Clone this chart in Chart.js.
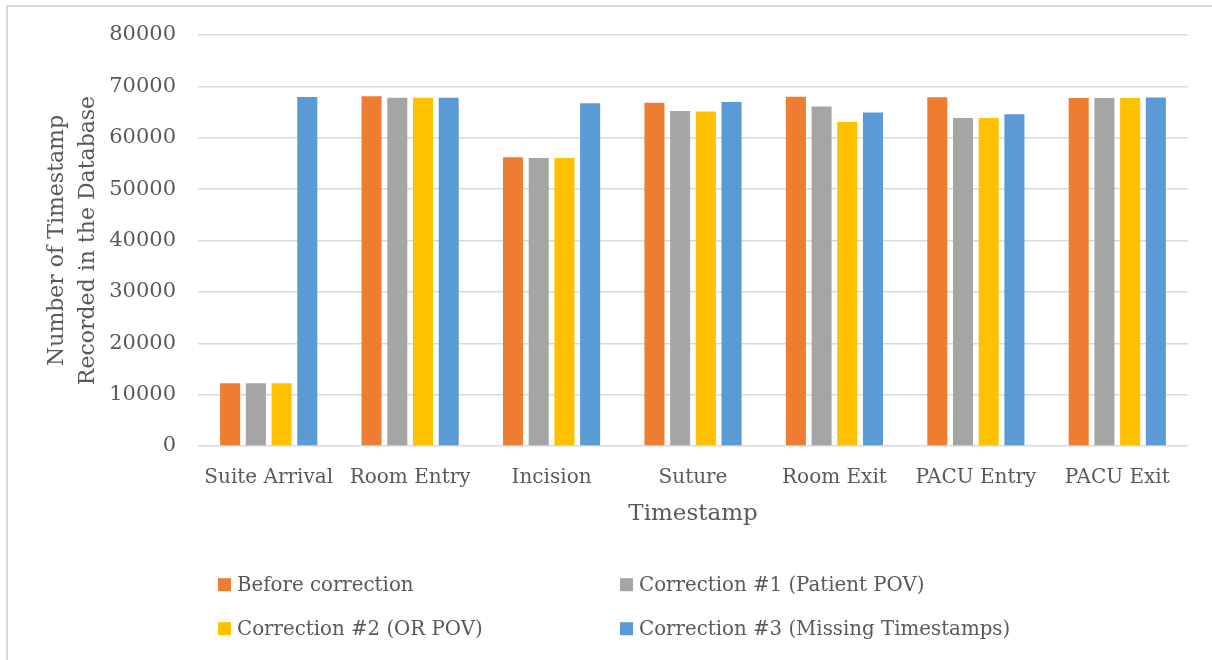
<!DOCTYPE html>
<html>
<head>
<meta charset="utf-8">
<title>Timestamps recorded per stage</title>
<script src="https://cdn.jsdelivr.net/npm/chart.js@4.4.1/dist/chart.umd.min.js"></script>
<style>
    html, body { margin: 0; padding: 0; background: #fff; overflow: hidden; }
    #wrap { position: relative; width: 1212px; height: 660px; }
    #frame {
        position: absolute; left: 6px; top: 5px; width: 1400px; height: 800px;
        border-top: 2px solid #d9d9d9; border-left: 2px solid #d9d9d9;
        pointer-events: none;
    }
    #timestampChart { position: absolute; left: 0; top: 0; }
</style>
</head>
<body>
<div id="wrap">
    <div id="frame"></div>
    <canvas id="timestampChart" width="1212" height="660"></canvas>
</div>
<script>
const stages = ['Suite Arrival', 'Room Entry', 'Incision', 'Suture', 'Room Exit', 'PACU Entry', 'PACU Exit'];
const beforeCorrection = [12200, 68100, 56200, 66800, 68000, 67900, 67750];
const correction1 = [12200, 67800, 56050, 65200, 66100, 63850, 67750];
const correction2 = [12200, 67800, 56050, 65100, 63050, 63850, 67750];
const correction3 = [67950, 67800, 66700, 66950, 64900, 64550, 67850];
const yTicks = [0, 10000, 20000, 30000, 40000, 50000, 60000, 70000, 80000];

const textColor = '#595959';
const serif = "'DejaVu Serif', 'Liberation Serif', serif";

// two-column legend under the plot
const gridLegend = {
    id: 'gridLegend',
    afterDraw(chart) {
        const ctx = chart.ctx;
        const cols = [218, 620];
        const rows = [584.7, 628.7];
        const box = 13;
        ctx.save();
        ctx.font = '19.8px ' + serif;
        ctx.textBaseline = 'middle';
        chart.data.datasets.forEach((ds, i) => {
            const x = cols[i % 2];
            const y = rows[Math.floor(i / 2)];
            ctx.fillStyle = ds.backgroundColor;
            ctx.fillRect(x, y - box / 2, box, box);
            ctx.fillStyle = textColor;
            ctx.fillText(ds.label, x + box + 6, y + 1);
        });
        ctx.restore();
    }
};

const ctx = document.getElementById('timestampChart').getContext('2d');
const chart = new Chart(ctx, {
    type: 'bar',
    data: {
        labels: stages,
        datasets: [{
            label: 'Before correction',
            data: beforeCorrection,
            backgroundColor: '#ED7D31'
        }, {
            label: 'Correction #1 (Patient POV)',
            data: correction1,
            backgroundColor: '#A5A5A5'
        }, {
            label: 'Correction #2 (OR POV)',
            data: correction2,
            backgroundColor: '#FFC000'
        }, {
            label: 'Correction #3 (Missing Timestamps)',
            data: correction3,
            backgroundColor: '#5B9BD5'
        }]
    },
    options: {
        responsive: false,
        animation: false,
        devicePixelRatio: 1,
        barPercentage: 0.78,
        categoryPercentage: 0.727,
        layout: { padding: { top: 35, right: 24, bottom: 124, left: 10 } },
        plugins: {
            legend: { display: false },
            tooltip: { enabled: false }
        },
        scales: {
            x: {
                grid: { display: false },
                border: { display: false },
                ticks: {
                    color: textColor,
                    font: { family: serif, size: 20 },
                    padding: 12,
                    maxRotation: 0,
                    autoSkip: false
                },
                title: {
                    display: true,
                    text: 'Timestamp',
                    color: textColor,
                    font: { family: serif, size: 23 },
                    padding: { top: 0, bottom: 8 }
                },
                afterFit(scale) { scale.height = 90; }
            },
            y: {
                min: 0,
                max: 80000,
                afterBuildTicks(scale) { scale.ticks = yTicks.map(v => ({ value: v })); },
                grid: { color: '#d9d9d9', lineWidth: 1.5, drawTicks: false },
                border: { display: false },
                ticks: {
                    color: textColor,
                    font: { family: serif, size: 21 },
                    padding: 22,
                    callback: value => String(value)
                },
                title: {
                    display: true,
                    text: ['Number of Timestamp', 'Recorded in the Database'],
                    color: textColor,
                    font: { family: serif, size: 22, lineHeight: 1.41 },
                    padding: { top: 32, bottom: 0 }
                },
                afterFit(scale) { scale.width = 188; }
            }
        }
    },
    plugins: [gridLegend]
});
</script>
</body>
</html>
